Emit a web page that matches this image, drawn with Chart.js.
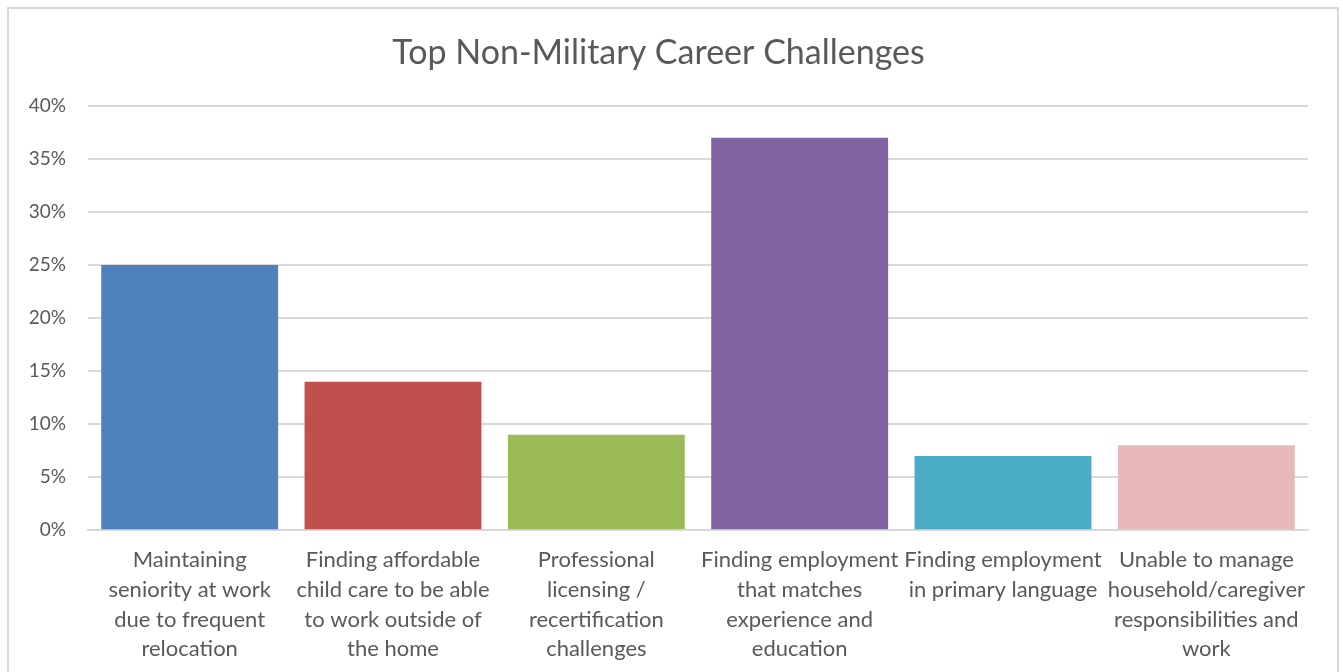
<!DOCTYPE html>
<html>
<head>
<meta charset="utf-8">
<script src="https://cdn.jsdelivr.net/npm/chart.js@4"></script>
<style>
  html, body { margin: 0; padding: 0; background: #fff; overflow: hidden; }
  #frame {
    position: absolute; left: 7px; top: 7px;
    width: 1328px; height: 700px;
    border: 2px solid #d9d9d9;
    background: #fff;
  }
  #chart { display: block; }
</style>
</head>
<body>
<div id="frame"><canvas id="chart" width="1328" height="670"></canvas></div>
<script>
// Share of respondents naming each challenge
const categories = [
  ['Maintaining', 'seniority at work', 'due to frequent', 'relocation'],
  ['Finding affordable', 'child care to be able', 'to work outside of', 'the home'],
  ['Professional', 'licensing /', 'recertification', 'challenges'],
  ['Finding employment', 'that matches', 'experience and', 'education'],
  ['Finding employment', 'in primary language'],
  ['Unable to manage', 'household/caregiver', 'responsibilities and', 'work'],
];
const values = [25, 14, 9, 37, 7, 8];
const barColors = ['#4f81bd', '#c0504d', '#9bbb59', '#8064a2', '#4bacc6', '#e6b9b8'];

const FONT = 'Lato, "Open Sans", sans-serif';
const TEXT = '#595959';
const GRID = '#d9d9d9';

Chart.defaults.font.family = FONT;
Chart.defaults.color = TEXT;

new Chart(document.getElementById('chart'), {
  type: 'bar',
  data: {
    labels: categories,
    datasets: [{
      data: values,
      backgroundColor: barColors,
      borderWidth: 0,
      categoryPercentage: 0.87,
      barPercentage: 1,
    }],
  },
  options: {
    responsive: false,
    animation: false,
    layout: { padding: { top: 24, right: 29, left: 0, bottom: 0 } },
    plugins: {
      legend: { display: false },
      tooltip: { enabled: false },
      title: {
        display: true,
        text: 'Top Non-Military Career Challenges',
        color: TEXT,
        font: { size: 34, weight: 'normal', family: FONT },
        padding: { top: 0, bottom: 32 },
      },
    },
    scales: {
      x: {
        grid: { display: false, drawTicks: false },
        border: { color: GRID, width: 2 },
        ticks: {
          color: TEXT,
          font: { size: 22, family: FONT, lineHeight: 1.35 },
          padding: 15,
          maxRotation: 0,
          autoSkip: false,
        },
      },
      y: {
        min: 0,
        max: 40,
        afterFit(scale) { scale.width = 79; },
        grid: { color: GRID, lineWidth: 2, drawTicks: false },
        border: { display: false },
        ticks: {
          stepSize: 5,
          color: TEXT,
          font: { size: 19, family: FONT },
          padding: 22,
          callback: (v) => v + '%',
        },
      },
    },
  },
});
</script>
</body>
</html>
